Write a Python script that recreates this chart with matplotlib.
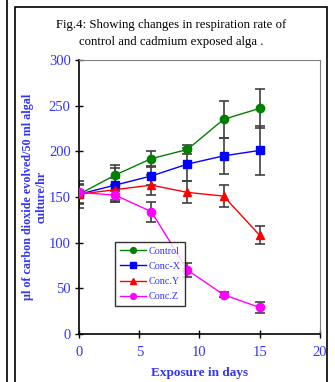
import numpy as np
import matplotlib
matplotlib.use('Agg')
import matplotlib.pyplot as plt
from matplotlib.patches import Rectangle
from matplotlib.lines import Line2D

plt.rcParams.update({
    'font.family': 'serif',
    'font.serif': ['Liberation Serif', 'DejaVu Serif'],
})

days = [0, 3, 6, 9, 12, 15]

control = [153, 174, 192, 202, 235, 247]
control_err = [11, 11, 8, 5, 20, 21]
conc_x = [153, 163, 173, 186, 195, 201]
conc_x_err = [15, 19, 10, 18, 20, 27]
conc_y = [153, 158, 163, 155, 151, 108]
conc_y_err = [10, 13, 11, 12, 12, 10]
conc_z = [155, 152, 134, 70, 43, 29]
conc_z_err = [3, 5, 11, 8, 3, 6]

series = [
    ("Control", control, control_err, "#008000", "o"),
    ("Conc-X", conc_x, conc_x_err, "#0000ff", "s"),
    ("Conc.Y", conc_y, conc_y_err, "#ff0000", "^"),
    ("Conc.Z", conc_z, conc_z_err, "#ff00ff", "o"),
]

BLUE = "#3333ff"

fig = plt.figure(figsize=(3.35, 3.82), dpi=100)
ax = fig.add_axes([0.236, 0.1257, 0.719, 0.7173])

# outer frame of the figure panel + edge of the neighbouring panel
fig.patches.append(Rectangle((15 / 335, -0.05), 312 / 335, 1.05 - 7 / 382,
                             transform=fig.transFigure, fill=False,
                             edgecolor="black", linewidth=1.2))
fig.lines.append(Line2D([7 / 335, 7 / 335], [0, 1], transform=fig.transFigure,
                        color="black", linewidth=1.2))

for name, vals, err, col, mk in series:
    ax.errorbar(days, vals, yerr=err, fmt="none", ecolor="#404040",
                elinewidth=1.2, capsize=3.5, capthick=1.2, zorder=2)
for name, vals, err, col, mk in series:
    ax.plot(days, vals, color=col, marker=mk, markersize=6, linewidth=1.0,
            label=name, zorder=3)

ax.set_xlim(0, 20)
ax.set_ylim(0, 300)
ax.set_xticks([0, 5, 10, 15, 20])
ax.set_yticks([0, 50, 100, 150, 200, 250, 300])
ax.tick_params(direction="inout", length=6, width=1, colors="black",
               labelcolor=BLUE, labelsize=10.5)
ax.tick_params(axis="x", pad=6)
ax.tick_params(axis="y", pad=3)
for s in ["top", "right"]:
    ax.spines[s].set_color("#808080")
for s in ["left", "bottom"]:
    ax.spines[s].set_linewidth(1.2)

ax.set_xlabel("Exposure in days", color=BLUE, fontweight="bold", fontsize=9.5)
ax.xaxis.set_label_coords(0.5, -0.122)
ax.set_ylabel("\u00b5l of carbon dioxide evolved/50 ml algal\nculture/hr",
              color=BLUE, fontweight="bold", fontsize=8.7, linespacing=1.15)
ax.yaxis.set_label_coords(-0.13, 0.5)

fig.text(0.51, 0.912, "Fig.4: Showing changes in respiration rate of\n"
         "control and cadmium exposed alga .", ha="center", va="center",
         fontsize=9.2, linespacing=1.6)

leg = ax.legend(loc="upper left", bbox_to_anchor=(0.15, 0.335),
                fontsize=7.3, frameon=True, fancybox=False,
                edgecolor="black", handlelength=2.6, markerscale=0.7,
                borderpad=0.45, labelspacing=0.6, handletextpad=0.25,
                borderaxespad=0)
leg.get_frame().set_linewidth(1.0)
for t in leg.get_texts():
    t.set_color(BLUE)

fig.savefig("out.png", dpi=100)
